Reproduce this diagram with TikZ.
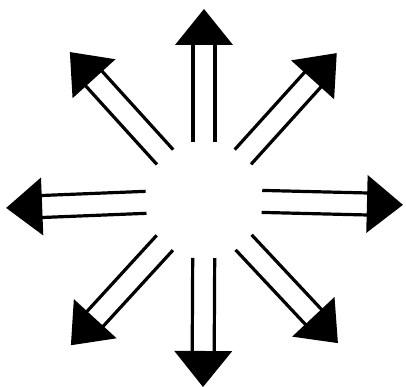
\documentclass[tikz,border=0pt]{standalone}
\usetikzlibrary{math}

\begin{document}
\begin{tikzpicture}[x=1pt,y=1pt]
  \tikzmath{
    \rin=58;
    \gap=11;
    \head=36;
    \wing=29;
  }
  \useasboundingbox (-204,-187) rectangle (202,200);
  \coordinate (c) at (0,0);

  % shafts and heads, one per direction
  \foreach \ang/\len [evaluate={\rbase=\len-\head;}] in {90/191, 47.9/198, -1.4/199, -46.9/196, -90.3/187, -132.5/197, -177.7/198, 132.2/199.7}{
    \begin{scope}[shift={(c)}, rotate=\ang]
      \draw[line width=3.2pt] (\rin,\gap) -- (\rbase+1,\gap);
      \draw[line width=3.2pt] (\rin,-\gap) -- (\rbase+1,-\gap);
      \fill[black] (\len,0) -- (\rbase,\wing) -- (\rbase,-\wing) -- cycle;
    \end{scope}
  }

\end{tikzpicture}
\end{document}
